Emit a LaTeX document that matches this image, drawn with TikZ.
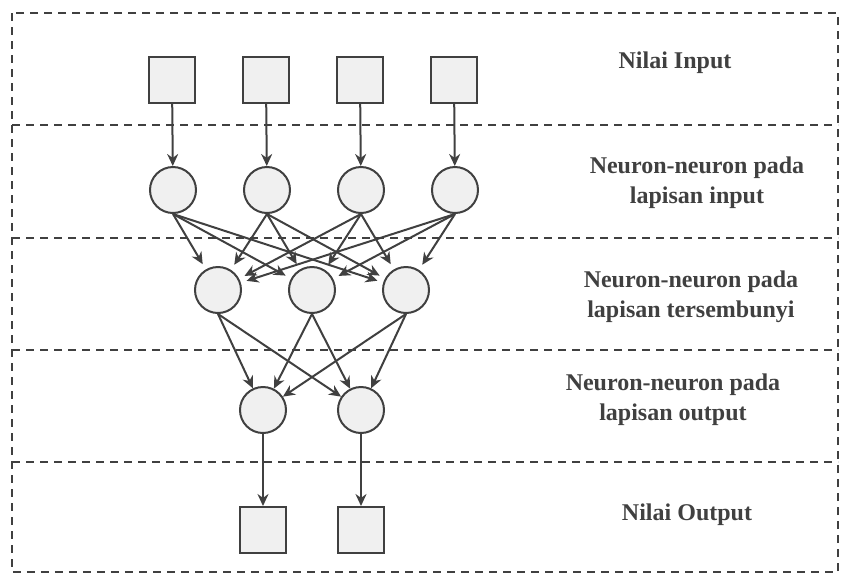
\documentclass[tikz,border=0pt]{standalone}
\usepackage{fontspec}
\setmainfont{Liberation Serif}
\usepackage{tikz}
\usetikzlibrary{arrows.meta, positioning}
\definecolor{garis}{HTML}{404040}
\definecolor{isi}{HTML}{F0F0F0}
\tikzstyle{kotak} = [
    rectangle,
    draw=garis,
    line width=1pt,
    fill=isi,
    minimum size=23pt,
    inner sep=0pt
]
\tikzstyle{neuron} = [
    circle,
    draw=garis,
    line width=1pt,
    fill=isi,
    minimum size=23pt,
    inner sep=0pt
]
\tikzstyle{panah} = [draw=garis, line width=1pt, -{Stealth[length=6pt, width=5.5pt]}]
\tikzstyle{batas} = [draw=garis, line width=1.2pt, dash pattern=on 4pt off 3pt]
\tikzstyle{ket} = [font=\fontsize{12}{15}\selectfont\bfseries, text=garis, align=center]

\begin{document}
\begin{tikzpicture}[x=0.5pt, y=-0.5pt, node distance=23pt]
    \useasboundingbox (0,0) rectangle (842,575);
    % Batas lapisan
    \draw [batas] (12,13) rectangle (838,572);
    \foreach \y in {125,238,350,462}
        \draw [batas] (12,\y) -- (838,\y);
    % Nilai input
    \node (x1) [kotak] at (172,80) {};
    \node (x2) [kotak, right=of x1] {};
    \node (x3) [kotak, right=of x2] {};
    \node (x4) [kotak, right=of x3] {};
    % Lapisan input
    \node (i1) [neuron] at (173,190) {};
    \node (i2) [neuron, right=of i1] {};
    \node (i3) [neuron, right=of i2] {};
    \node (i4) [neuron, right=of i3] {};
    % Lapisan tersembunyi
    \node (h1) [neuron] at (218,290) {};
    \node (h2) [neuron, right=of h1] {};
    \node (h3) [neuron, right=of h2] {};
    % Lapisan output
    \node (o1) [neuron] at (263,410) {};
    \node (o2) [neuron, right=25pt of o1] {};
    % Nilai output
    \node (y1) [kotak] at (263,530) {};
    \node (y2) [kotak, right=25pt of y1] {};
    % Panah
    \foreach \i in {1,...,4}
        \draw [panah] (x\i) -- (i\i);
    \foreach \i in {1,...,4}
        \foreach \j in {1,2,3}
            \draw [panah, shorten >=3pt] (i\i.south) -- (h\j);
    \foreach \j in {1,2,3}
        \foreach \k in {1,2}
            \draw [panah] (h\j.south) -- (o\k);
    \foreach \k in {1,2}
        \draw [panah] (o\k) -- (y\k);
    % Keterangan
    \node (t1) [ket] at (675,63) {Nilai Input};
    \node (t2) [ket] at (697,183) {Neuron-neuron pada\\lapisan input};
    \node (t3) [ket] at (691,297) {Neuron-neuron pada\\lapisan tersembunyi};
    \node (t4) [ket] at (673,400) {Neuron-neuron pada\\lapisan output};
    \node (t5) [ket] at (687,515) {Nilai Output};
\end{tikzpicture}
\end{document}
